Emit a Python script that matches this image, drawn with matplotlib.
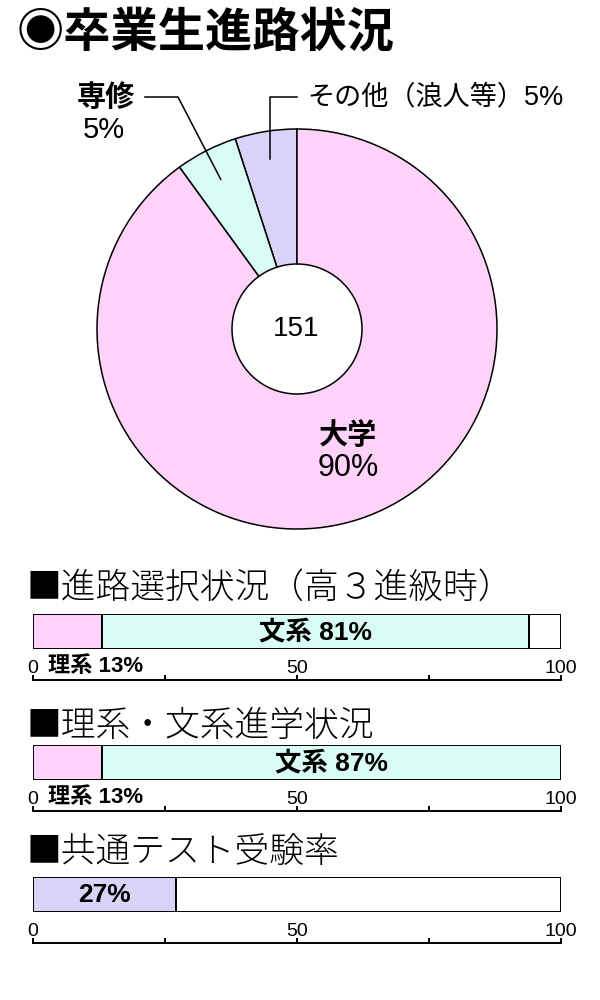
import matplotlib.pyplot as plt
import numpy as np

plt.rcParams['font.family'] = ['Noto Sans CJK JP', 'DejaVu Sans']

# 卒業生進路状況 (donut)
course_labels = ['その他（浪人等）', '専修', '大学']
course_pct = [5, 5, 90]
graduates = 151

# bar sections
bar_titles = ['■進路選択状況（高３進級時）', '■理系・文系進学状況', '■共通テスト受験率']
science_pct = [13, 13]
humanities_pct = [81, 87]
test_rate = 27

PINK = '#FFD2FA'
CYAN = '#D9FCF5'
LAVENDER = '#D9D3F7'

MIX = ['Liberation Sans', 'Noto Sans CJK JP']     # latin digits + CJK fallback
NARROW = ['Liberation Sans Narrow', 'Liberation Sans', 'DejaVu Sans']

fig = plt.figure(figsize=(6, 10), dpi=100)
fig.patch.set_facecolor('white')

# Title
fig.text(0.028, 0.967, '◉卒業生進路状況', fontsize=34, fontweight='bold', va='center')

# Donut chart
ax = fig.add_axes([0, 0.44, 1, 0.5])
wedges, _ = ax.pie(course_pct, colors=[LAVENDER, CYAN, PINK], startangle=90,
                   counterclock=True, radius=1,
                   wedgeprops=dict(width=0.675, edgecolor='black', linewidth=1.1))
ax.set_xlim(-1.485, 1.515)
ax.set_ylim(-1.155, 1.345)
ax.axis('off')

ax.text(-0.005, 0, str(graduates), ha='center', va='center', fontsize=20, family=MIX)


def leader_anchor(w, r):
    mid = np.deg2rad((w.theta1 + w.theta2) / 2)
    return r * np.cos(mid), r * np.sin(mid)


# その他 label with elbow leader
x0, y0 = leader_anchor(wedges[0], 0.86)
ax.plot([x0, x0, 0.0], [y0, 1.16, 1.16], color='black', lw=1.1)
ax.text(0.05, 1.16, f'{course_labels[0]}{course_pct[0]}%', ha='left', va='center',
        fontsize=19.5, family=MIX)

# 専修 label with leader
x1, y1 = leader_anchor(wedges[1], 0.84)
ax.plot([x1, -0.595, -0.76], [y1, 1.16, 1.16], color='black', lw=1.1)
ax.text(-0.81, 1.16, course_labels[1], ha='right', va='center', fontsize=21,
        fontweight='bold')
ax.text(-0.965, 0.995, f'{course_pct[1]}%', ha='center', va='center', fontsize=21,
        family=MIX)

# 大学 label
ax.text(0.255, -0.53, course_labels[2], ha='center', va='center', fontsize=21,
        fontweight='bold')
ax.text(0.255, -0.695, f'{course_pct[2]}%', ha='center', va='center', fontsize=22,
        family=MIX)


def draw_bar(bottom, segs, colors):
    bax = fig.add_axes([0.055, bottom, 0.88, 0.035])
    lefts = np.concatenate([[0], np.cumsum(segs)[:-1]])
    bars = bax.barh(0, segs, left=lefts, color=colors, edgecolor='black',
                    linewidth=1.4, height=1)
    bax.set_xlim(0, 100)
    bax.set_ylim(-0.5, 0.5)
    for s in ['left', 'right', 'top']:
        bax.spines[s].set_visible(False)
    bax.spines['bottom'].set_position(('outward', 22))
    bax.spines['bottom'].set_linewidth(1.4)
    bax.set_yticks([])
    bax.set_xticks([0, 25, 50, 75, 100])
    bax.set_xticklabels(['0', '', '50', '', '100'])
    bax.tick_params(axis='x', direction='in', length=3.8, width=1.4, pad=-5,
                    labelsize=14)
    plt.setp(bax.get_xticklabels(), va='baseline', family=NARROW)
    bax.set_facecolor('none')
    return bax, bars


def seg_center(bar):
    return bar.get_x() + bar.get_width() / 2


heading_y = [0.412, 0.274, 0.148]
for t, y in zip(bar_titles, heading_y):
    fig.text(0.045, y, t, fontsize=25, va='center', fontweight='light')

# 進路選択状況
rest1 = 100 - science_pct[0] - humanities_pct[0]
b1, bars1 = draw_bar(0.351, [science_pct[0], humanities_pct[0], rest1],
                     [PINK, CYAN, 'white'])
b1.text(seg_center(bars1[1]), 0, f'文系 {humanities_pct[0]}%', ha='center',
        va='center', fontsize=19, fontweight='bold', family=MIX)
b1.text(2.8, -0.99, f'理系 {science_pct[0]}%', ha='left', va='center',
        fontsize=16, fontweight='bold', family=MIX, clip_on=False)

# 理系・文系進学状況
b2, bars2 = draw_bar(0.220, [science_pct[1], humanities_pct[1]], [PINK, CYAN])
b2.text(seg_center(bars2[1]), 0, f'文系 {humanities_pct[1]}%', ha='center',
        va='center', fontsize=19, fontweight='bold', family=MIX)
b2.text(2.8, -0.99, f'理系 {science_pct[1]}%', ha='left', va='center',
        fontsize=16, fontweight='bold', family=MIX, clip_on=False)

# 共通テスト受験率
b3, bars3 = draw_bar(0.088, [test_rate, 100 - test_rate], [LAVENDER, 'white'])
b3.text(seg_center(bars3[0]), 0, f'{test_rate}%', ha='center', va='center',
        fontsize=19, fontweight='bold', family=MIX)

fig.savefig('out.png', dpi=100)
